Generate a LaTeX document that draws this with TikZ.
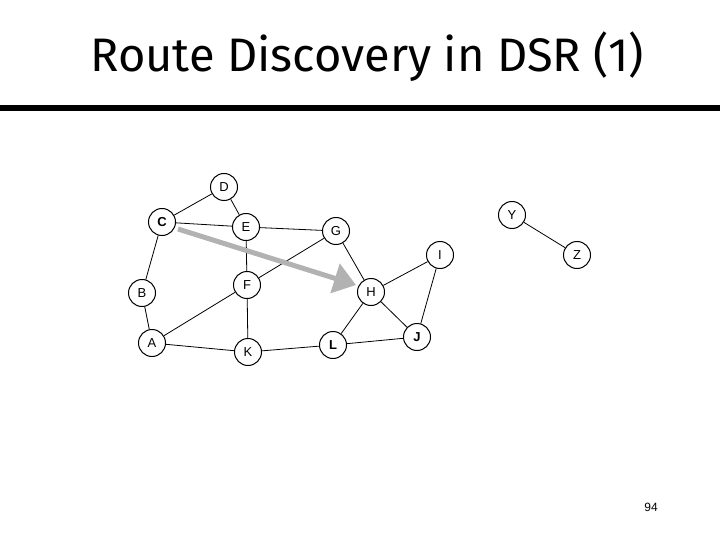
\documentclass[tikz,border=0pt]{standalone}
\usepackage{fontspec}
\setmainfont{Liberation Sans}
\newfontfamily\titlefont{Fira Sans}
\usetikzlibrary{arrows.meta}
\begin{document}
\begin{tikzpicture}[x=1pt,y=-1pt,
  nd/.style={circle,draw,line width=1pt,minimum size=27pt,inner sep=0pt,font=\fontsize{13}{13}\selectfont,fill=white},
  ed/.style={line width=0.8pt}]
\useasboundingbox (0,0) rectangle (720,540);
\node[font=\titlefont\fontsize{47}{47}\selectfont] (title) at (367,57) {Route Discovery in DSR (1)};
\draw[line width=6pt] (0,108) -- (720,108);
\node[font=\fontsize{12}{12}\selectfont] (pg) at (651,507) {94};
\coordinate (s) at (178,229);
\coordinate (t) at (356,285);
\node[nd] (D) at (224,187) {D};
\node[nd] (C) at (162,222) {\textbf{C}};
\node[nd] (E) at (246,227) {E};
\node[nd] (G) at (336,231) {G};
\node[nd] (B) at (142,293) {B};
\node[nd] (F) at (247,285) {F};
\node[nd] (H) at (371,292) {H};
\node[nd] (I) at (440,255) {I};
\node[nd] (A) at (152,343) {A};
\node[nd] (K) at (248,352) {K};
\node[nd] (L) at (333,345) {\textbf{L}};
\node[nd] (J) at (417,337) {\textbf{J}};
\node[nd] (Y) at (512,215) {Y};
\node[nd] (Z) at (577,255) {Z};
\foreach \a/\b in {C/D,D/E,C/E,E/G,E/F,C/B,B/A,A/F,F/G,F/K,A/K,K/L,G/H,H/I,I/J,H/J,H/L,L/J,Y/Z}
  \draw[ed] (\a) -- (\b);
\draw[line width=5pt,color=black!30,-{Triangle[length=22pt,width=30pt]}] (s) -- (t);
\end{tikzpicture}
\end{document}
